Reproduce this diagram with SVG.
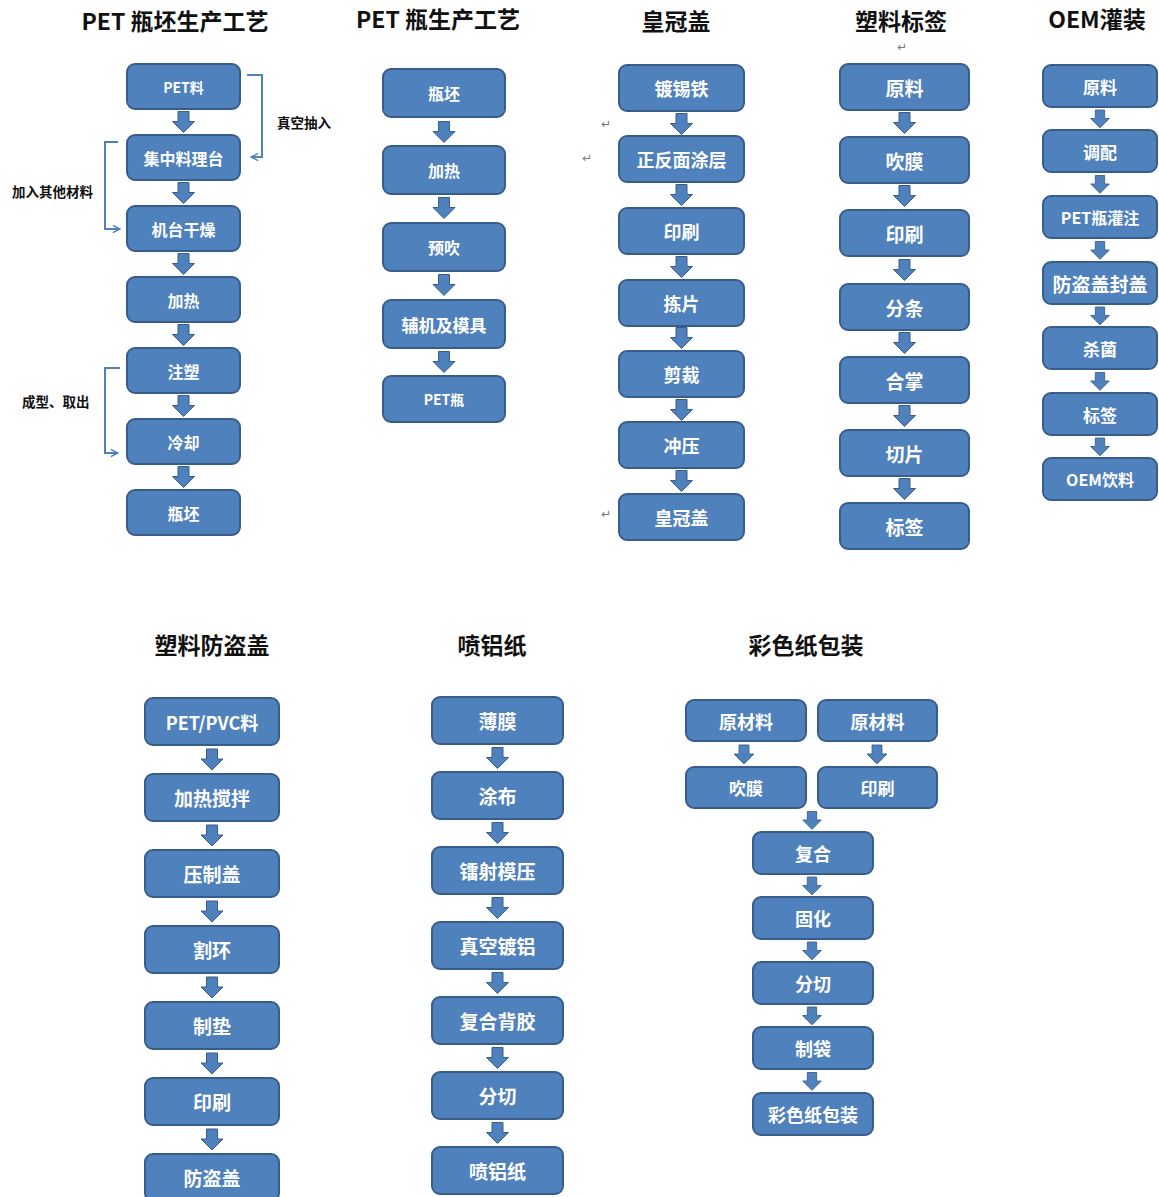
<svg xmlns="http://www.w3.org/2000/svg" xmlns:xlink="http://www.w3.org/1999/xlink" width="1159" height="1197" viewBox="0 0 1159 1197">
<style>
.b{fill:#4F81BD;stroke:#385D8A;stroke-width:2}
.t{fill:#fff;font-family:"Noto Sans CJK SC","Noto Sans",sans-serif;font-weight:700;text-anchor:middle;dominant-baseline:central}
.h{fill:#111;font-family:"Noto Sans CJK SC","Noto Sans",sans-serif;font-weight:700;text-anchor:middle;font-size:23px}
.s{fill:#111;font-family:"Noto Sans CJK SC",sans-serif;font-weight:700;font-size:13.5px}
.m{fill:#777;font-family:"DejaVu Sans",sans-serif;font-size:12px}
.c{fill:none;stroke:#4F81BD;stroke-width:2}
</style>
<defs>
<path id="arr" d="M-5.5 0H5.5V10H11L0 21L-11 10H-5.5Z" fill="#4F81BD" stroke="#385D8A" stroke-width="1"/>
<marker id="open" viewBox="0 0 10 10" refX="9" refY="5" markerWidth="9" markerHeight="9" orient="auto" markerUnits="userSpaceOnUse">
<path d="M1 1L9 5L1 9" fill="none" stroke="#4F81BD" stroke-width="1.6"/>
</marker>
</defs>
<rect width="1159" height="1197" fill="#fff"/>

<g id="titles">
<text class="h" x="175" y="30">PET 瓶坯生产工艺</text>
<text class="h" x="438" y="28">PET 瓶生产工艺</text>
<text class="h" x="676" y="30">皇冠盖</text>
<text class="h" x="901" y="30">塑料标签</text>
<text class="h" x="1097" y="28">OEM灌装</text>
<text class="h" x="212" y="654">塑料防盗盖</text>
<text class="h" x="492" y="654">喷铝纸</text>
<text class="h" x="806" y="654">彩色纸包装</text>
<text class="s" x="277" y="128">真空抽入</text>
<text class="s" x="12" y="197">加入其他材料</text>
<text class="s" x="22" y="407">成型、取出</text>
<text class="m" x="601" y="128">↵</text>
<text class="m" x="582" y="162">↵</text>
<text class="m" x="601" y="518">↵</text>
<text class="m" x="897" y="51">↵</text>
</g>

<g id="col1">
<g id="n1-1"><rect class="b" x="127" y="64" width="113" height="45" rx="8"/><text class="t" x="183.5" y="86.5" font-size="14">PET料</text></g>
<g id="n1-2"><rect class="b" x="127" y="135" width="113" height="45" rx="8"/><text class="t" x="183.5" y="157.5" font-size="16">集中料理台</text></g>
<g id="n1-3"><rect class="b" x="127" y="206" width="113" height="45" rx="8"/><text class="t" x="183.5" y="228.5" font-size="16">机台干燥</text></g>
<g id="n1-4"><rect class="b" x="127" y="277" width="113" height="45" rx="8"/><text class="t" x="183.5" y="299.5" font-size="16">加热</text></g>
<g id="n1-5"><rect class="b" x="127" y="348" width="113" height="45" rx="8"/><text class="t" x="183.5" y="370.5" font-size="16">注塑</text></g>
<g id="n1-6"><rect class="b" x="127" y="419" width="113" height="45" rx="8"/><text class="t" x="183.5" y="441.5" font-size="16">冷却</text></g>
<g id="n1-7"><rect class="b" x="127" y="490" width="113" height="45" rx="8"/><text class="t" x="183.5" y="512.5" font-size="16">瓶坯</text></g>
</g>

<g id="col2">
<g id="n2-1"><rect class="b" x="383" y="69" width="122" height="48" rx="8"/><text class="t" x="444" y="93" font-size="16">瓶坯</text></g>
<g id="n2-2"><rect class="b" x="383" y="146" width="122" height="48" rx="8"/><text class="t" x="444" y="170" font-size="16">加热</text></g>
<g id="n2-3"><rect class="b" x="383" y="223" width="122" height="48" rx="8"/><text class="t" x="444" y="247" font-size="16">预吹</text></g>
<g id="n2-4"><rect class="b" x="383" y="300" width="122" height="48" rx="8"/><text class="t" x="444" y="324" font-size="17">辅机及模具</text></g>
<g id="n2-5"><rect class="b" x="383" y="376" width="122" height="46" rx="8"/><text class="t" x="444" y="399" font-size="14">PET瓶</text></g>
</g>

<g id="col3">
<g id="n3-1"><rect class="b" x="619" y="65" width="125" height="46" rx="8"/><text class="t" x="681.5" y="88" font-size="18">镀锡铁</text></g>
<g id="n3-2"><rect class="b" x="619" y="136" width="125" height="46" rx="8"/><text class="t" x="681.5" y="159" font-size="18">正反面涂层</text></g>
<g id="n3-3"><rect class="b" x="619" y="208" width="125" height="46" rx="8"/><text class="t" x="681.5" y="231" font-size="18">印刷</text></g>
<g id="n3-4"><rect class="b" x="619" y="280" width="125" height="46" rx="8"/><text class="t" x="681.5" y="303" font-size="18">拣片</text></g>
<g id="n3-5"><rect class="b" x="619" y="351" width="125" height="46" rx="8"/><text class="t" x="681.5" y="374" font-size="18">剪裁</text></g>
<g id="n3-6"><rect class="b" x="619" y="422" width="125" height="46" rx="8"/><text class="t" x="681.5" y="445" font-size="18">冲压</text></g>
<g id="n3-7"><rect class="b" x="619" y="494" width="125" height="46" rx="8"/><text class="t" x="681.5" y="517" font-size="18">皇冠盖</text></g>
</g>

<g id="col4">
<g id="n4-1"><rect class="b" x="840" y="64" width="129" height="46" rx="8"/><text class="t" x="904.5" y="87" font-size="19">原料</text></g>
<g id="n4-2"><rect class="b" x="840" y="137" width="129" height="46" rx="8"/><text class="t" x="904.5" y="160" font-size="19">吹膜</text></g>
<g id="n4-3"><rect class="b" x="840" y="210" width="129" height="46" rx="8"/><text class="t" x="904.5" y="233" font-size="19">印刷</text></g>
<g id="n4-4"><rect class="b" x="840" y="284" width="129" height="46" rx="8"/><text class="t" x="904.5" y="307" font-size="19">分条</text></g>
<g id="n4-5"><rect class="b" x="840" y="357" width="129" height="46" rx="8"/><text class="t" x="904.5" y="380" font-size="19">合掌</text></g>
<g id="n4-6"><rect class="b" x="840" y="430" width="129" height="46" rx="8"/><text class="t" x="904.5" y="453" font-size="19">切片</text></g>
<g id="n4-7"><rect class="b" x="840" y="503" width="129" height="46" rx="8"/><text class="t" x="904.5" y="526" font-size="19">标签</text></g>
</g>

<g id="col5">
<g id="n5-1"><rect class="b" x="1043" y="65" width="114" height="42" rx="8"/><text class="t" x="1100" y="86" font-size="17">原料</text></g>
<g id="n5-2"><rect class="b" x="1043" y="130" width="114" height="42" rx="8"/><text class="t" x="1100" y="151" font-size="17">调配</text></g>
<g id="n5-3"><rect class="b" x="1043" y="196" width="114" height="42" rx="8"/><text class="t" x="1100" y="217" font-size="16">PET瓶灌注</text></g>
<g id="n5-4"><rect class="b" x="1043" y="262" width="114" height="42" rx="8"/><text class="t" x="1100" y="283" font-size="19">防盗盖封盖</text></g>
<g id="n5-5"><rect class="b" x="1043" y="327" width="114" height="42" rx="8"/><text class="t" x="1100" y="348" font-size="17">杀菌</text></g>
<g id="n5-6"><rect class="b" x="1043" y="393" width="114" height="42" rx="8"/><text class="t" x="1100" y="414" font-size="17">标签</text></g>
<g id="n5-7"><rect class="b" x="1043" y="458" width="114" height="42" rx="8"/><text class="t" x="1100" y="479" font-size="16">OEM饮料</text></g>
</g>

<g id="colA">
<g id="nA-1"><rect class="b" x="145" y="698" width="134" height="47" rx="8"/><text class="t" x="212" y="721.5" font-size="18">PET/PVC料</text></g>
<g id="nA-2"><rect class="b" x="145" y="774" width="134" height="47" rx="8"/><text class="t" x="212" y="797.5" font-size="19">加热搅拌</text></g>
<g id="nA-3"><rect class="b" x="145" y="850" width="134" height="47" rx="8"/><text class="t" x="212" y="873.5" font-size="19">压制盖</text></g>
<g id="nA-4"><rect class="b" x="145" y="926" width="134" height="47" rx="8"/><text class="t" x="212" y="949.5" font-size="19">割环</text></g>
<g id="nA-5"><rect class="b" x="145" y="1002" width="134" height="47" rx="8"/><text class="t" x="212" y="1025.5" font-size="19">制垫</text></g>
<g id="nA-6"><rect class="b" x="145" y="1078" width="134" height="47" rx="8"/><text class="t" x="212" y="1101.5" font-size="19">印刷</text></g>
<g id="nA-7"><rect class="b" x="145" y="1154" width="134" height="47" rx="8"/><text class="t" x="212" y="1177.5" font-size="19">防盗盖</text></g>
</g>

<g id="colB">
<g id="nB-1"><rect class="b" x="432" y="697" width="131" height="47" rx="8"/><text class="t" x="497.5" y="720.5" font-size="19">薄膜</text></g>
<g id="nB-2"><rect class="b" x="432" y="772" width="131" height="47" rx="8"/><text class="t" x="497.5" y="795.5" font-size="19">涂布</text></g>
<g id="nB-3"><rect class="b" x="432" y="847" width="131" height="47" rx="8"/><text class="t" x="497.5" y="870.5" font-size="19">镭射模压</text></g>
<g id="nB-4"><rect class="b" x="432" y="922" width="131" height="47" rx="8"/><text class="t" x="497.5" y="945.5" font-size="19">真空镀铝</text></g>
<g id="nB-5"><rect class="b" x="432" y="997" width="131" height="47" rx="8"/><text class="t" x="497.5" y="1020.5" font-size="19">复合背胶</text></g>
<g id="nB-6"><rect class="b" x="432" y="1072" width="131" height="47" rx="8"/><text class="t" x="497.5" y="1095.5" font-size="19">分切</text></g>
<g id="nB-7"><rect class="b" x="432" y="1147" width="131" height="47" rx="8"/><text class="t" x="497.5" y="1170.5" font-size="19">喷铝纸</text></g>
</g>

<g id="colC">
<g id="nC-1"><rect class="b" x="686" y="700" width="120" height="41" rx="8"/><text class="t" x="746" y="720.5" font-size="18">原材料</text></g>
<g id="nC-2"><rect class="b" x="818" y="700" width="119" height="41" rx="8"/><text class="t" x="877.5" y="720.5" font-size="18">原材料</text></g>
<g id="nC-3"><rect class="b" x="686" y="767" width="120" height="41" rx="8"/><text class="t" x="746" y="787.5" font-size="17">吹膜</text></g>
<g id="nC-4"><rect class="b" x="818" y="767" width="119" height="41" rx="8"/><text class="t" x="877.5" y="787.5" font-size="17">印刷</text></g>
<g id="nC-5"><rect class="b" x="753" y="832" width="120" height="42" rx="8"/><text class="t" x="813" y="853" font-size="18">复合</text></g>
<g id="nC-6"><rect class="b" x="753" y="897" width="120" height="42" rx="8"/><text class="t" x="813" y="918" font-size="18">固化</text></g>
<g id="nC-7"><rect class="b" x="753" y="962" width="120" height="42" rx="8"/><text class="t" x="813" y="983" font-size="18">分切</text></g>
<g id="nC-8"><rect class="b" x="753" y="1027" width="120" height="42" rx="8"/><text class="t" x="813" y="1048" font-size="18">制袋</text></g>
<g id="nC-9"><rect class="b" x="753" y="1093" width="120" height="42" rx="8"/><text class="t" x="813" y="1114" font-size="18">彩色纸包装</text></g>
</g>

<g id="connectors">
<path class="c" d="M247 75H262V157H251" marker-end="url(#open)"/>
<path class="c" d="M118 142H105V229H120" marker-end="url(#open)"/>
<path class="c" d="M120 368H105V453H118" marker-end="url(#open)"/>

<use href="#arr" x="183.5" y="111.5"/>
<use href="#arr" x="183.5" y="182.5"/>
<use href="#arr" x="183.5" y="253.5"/>
<use href="#arr" x="183.5" y="324.5"/>
<use href="#arr" x="183.5" y="395.5"/>
<use href="#arr" x="183.5" y="466.5"/>

<use href="#arr" x="444" y="121.5"/>
<use href="#arr" x="444" y="197.5"/>
<use href="#arr" x="444" y="274.5"/>
<use href="#arr" x="444" y="351.5"/>

<use href="#arr" x="681.5" y="113.5"/>
<use href="#arr" x="681.5" y="184.5"/>
<use href="#arr" x="681.5" y="256.5"/>
<use href="#arr" x="681.5" y="327.5"/>
<use href="#arr" x="681.5" y="399.5"/>
<use href="#arr" x="681.5" y="470.5"/>

<use href="#arr" x="904.5" y="112.5"/>
<use href="#arr" x="904.5" y="185.5"/>
<use href="#arr" x="904.5" y="259.5"/>
<use href="#arr" x="904.5" y="332.5"/>
<use href="#arr" x="904.5" y="405.5"/>
<use href="#arr" x="904.5" y="478.5"/>

<use href="#arr" transform="translate(1100 110) scale(0.85)"/>
<use href="#arr" transform="translate(1100 175.5) scale(0.85)"/>
<use href="#arr" transform="translate(1100 241.5) scale(0.85)"/>
<use href="#arr" transform="translate(1100 307) scale(0.85)"/>
<use href="#arr" transform="translate(1100 372.5) scale(0.85)"/>
<use href="#arr" transform="translate(1100 438) scale(0.85)"/>

<use href="#arr" x="212" y="749"/>
<use href="#arr" x="212" y="825"/>
<use href="#arr" x="212" y="901"/>
<use href="#arr" x="212" y="977"/>
<use href="#arr" x="212" y="1053"/>
<use href="#arr" x="212" y="1129"/>

<use href="#arr" x="497.5" y="747.5"/>
<use href="#arr" x="497.5" y="822.5"/>
<use href="#arr" x="497.5" y="897.5"/>
<use href="#arr" x="497.5" y="972.5"/>
<use href="#arr" x="497.5" y="1047.5"/>
<use href="#arr" x="497.5" y="1122.5"/>

<use href="#arr" transform="translate(744 745) scale(0.9)"/>
<use href="#arr" transform="translate(877 745) scale(0.9)"/>
<use href="#arr" transform="translate(812 811.5) scale(0.85)"/>
<use href="#arr" transform="translate(812 877) scale(0.85)"/>
<use href="#arr" transform="translate(812 942) scale(0.85)"/>
<use href="#arr" transform="translate(812 1007) scale(0.85)"/>
<use href="#arr" transform="translate(812 1072.5) scale(0.85)"/>
</g>
</svg>
